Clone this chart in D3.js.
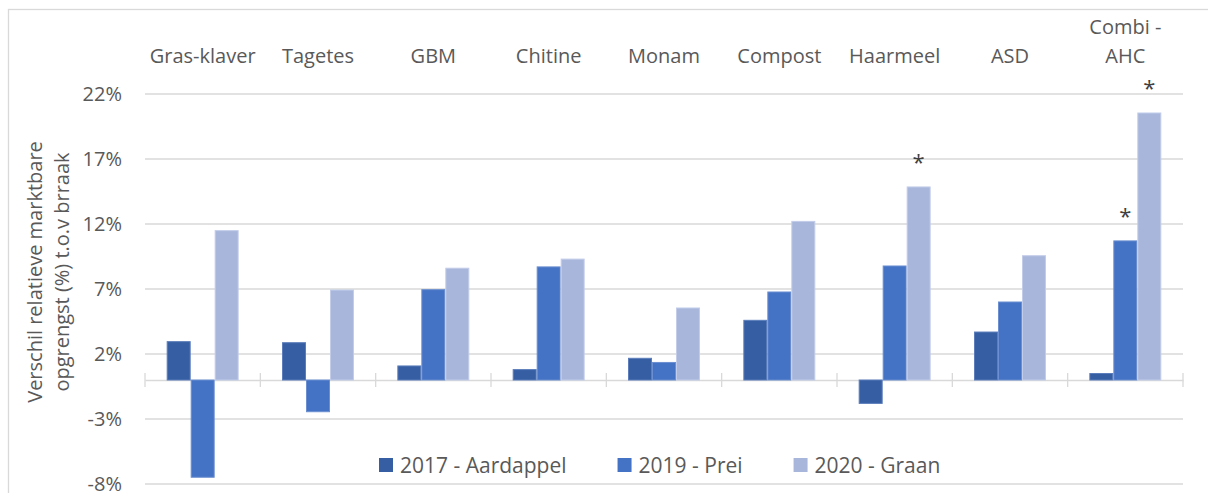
<!DOCTYPE html>
<html>
<head>
  <title>Verschil relatieve marktbare opbrengst</title>
  <style type="text/css">
    body { margin: 0; background: #fff; }
    svg { display: block; font-family: 'Open Sans', sans-serif; }
  </style>
</head>
<body>

<svg id='vis' width='1208' height='493'></svg>

<script src="https://cdnjs.cloudflare.com/ajax/libs/d3/7.8.5/d3.min.js"></script>
<script type="text/javascript">

  // data
  var categories = ['Gras-klaver', 'Tagetes', 'GBM', 'Chitine', 'Monam', 'Compost', 'Haarmeel', 'ASD', 'Combi - AHC'];
  var seriesNames = ['2017 - Aardappel', '2019 - Prei', '2020 - Graan'];
  var v2017 = [2.95, 2.87, 1.08, 0.8, 1.67, 4.59, -1.8, 3.69, 0.5];
  var v2019 = [-7.48, -2.44, 6.95, 8.7, 1.35, 6.77, 8.77, 6.0, 10.7];
  var v2020 = [11.49, 6.92, 8.6, 9.3, 5.54, 12.2, 14.85, 9.56, 20.54];
  // significance markers (*) per series
  var sig2017 = [0, 0, 0, 0, 0, 0, 0, 0, 0];
  var sig2019 = [0, 0, 0, 0, 0, 0, 0, 0, 1];
  var sig2020 = [0, 0, 0, 0, 0, 0, 1, 0, 1];
  var yTicks = [-8, -3, 2, 7, 12, 17, 22];

  var colors = ['#365fa3', '#4472c4', '#a8b6db'],
      strokes = ['#5b7dbb', '#6b8fd0', '#c3cdea'],
      gridColor = '#d9d9d9',
      textColor = '#595959';

  var allValues = [v2017, v2019, v2020],
      allSig = [sig2017, sig2019, sig2020];

  var series = seriesNames.map(function(name, i) {
    return { name: name, idx: i, values: allValues[i], sig: allSig[i] };
  });

  var svg = d3.select('#vis');

  // outer frame
  svg.append('rect')
    .attr('x', 8.5).attr('y', 9.5)
    .attr('width', 1220).attr('height', 500)
    .attr('fill', 'none')
    .attr('stroke', gridColor)
    .attr('stroke-width', 1.3);

  var plot = { left: 145, right: 1183, top: 94, bottom: 484 };

  var xScale = d3.scaleBand()
    .domain(categories)
    .range([plot.left, plot.right])
    .padding(0);
  var bw = xScale.bandwidth();
  var xInner = d3.scaleBand()
    .domain(d3.range(seriesNames.length))
    .range([bw * 0.188, bw * 0.812]);

  var yScale = d3.scaleLinear()
    .domain([-8, 22])
    .range([plot.bottom, plot.top]);

  // gridlines
  svg.append('g')
    .selectAll('line')
    .data(yTicks)
    .enter().append('line')
    .attr('x1', plot.left).attr('x2', plot.right)
    .attr('y1', function(d) { return yScale(d) })
    .attr('y2', function(d) { return yScale(d) })
    .attr('stroke', gridColor)
    .attr('stroke-width', 1.3);

  // y tick labels
  svg.append('g')
    .selectAll('text')
    .data(yTicks)
    .enter().append('text')
    .attr('x', 122)
    .attr('y', function(d) { return yScale(d) })
    .attr('dy', '0.34em')
    .attr('text-anchor', 'end')
    .attr('font-size', 20)
    .attr('fill', textColor)
    .text(function(d) { return d + '%' });

  // zero axis with crossing ticks at the category borders
  var y0 = yScale(0);
  var axis = svg.append('g')
    .attr('transform', 'translate(0,' + y0 + ')')
    .call(d3.axisBottom(xScale).tickValues([]).tickSizeOuter(0));
  axis.select('.domain').attr('stroke', gridColor).attr('stroke-width', 1.3);

  var borders = categories.map(function(c) { return xScale(c) }).concat([plot.right]);
  svg.append('g')
    .selectAll('line')
    .data(borders)
    .enter().append('line')
    .attr('x1', function(d) { return d }).attr('x2', function(d) { return d })
    .attr('y1', y0 - 7).attr('y2', y0 + 7)
    .attr('stroke', gridColor)
    .attr('stroke-width', 1.3);

  // bars
  var groups = svg.append('g')
    .selectAll('g')
    .data(series)
    .enter().append('g');

  groups.selectAll('rect')
    .data(function(s) {
      return s.values.map(function(v, j) { return { s: s.idx, cat: categories[j], val: v } });
    })
    .enter().append('rect')
    .attr('x', function(d) { return xScale(d.cat) + xInner(d.s) + 0.5 })
    .attr('width', xInner.bandwidth() - 1)
    .attr('y', function(d) { return yScale(Math.max(0, d.val)) })
    .attr('height', function(d) { return Math.abs(yScale(d.val) - yScale(0)) })
    .attr('fill', function(d) { return colors[d.s] })
    .attr('stroke', function(d) { return strokes[d.s] })
    .attr('stroke-width', 1);

  // asterisks above significant bars
  groups.selectAll('text')
    .data(function(s) {
      return s.values.map(function(v, j) { return { s: s.idx, cat: categories[j], val: v, sig: s.sig[j] } })
        .filter(function(d) { return d.sig });
    })
    .enter().append('text')
    .attr('x', function(d) { return xScale(d.cat) + xInner(d.s) + xInner.bandwidth() / 2 })
    .attr('y', function(d) { return yScale(d.val) - 17 })
    .attr('text-anchor', 'middle')
    .attr('font-size', 22)
    .attr('fill', '#404040')
    .text('*');

  // category labels on top, wrapped when wider than the band
  var catG = svg.append('g');
  categories.forEach(function(c) {
    var t = catG.append('text')
      .attr('text-anchor', 'middle')
      .attr('font-size', 20)
      .attr('fill', textColor)
      .text(c);
    var lines = [c];
    if (t.node().getComputedTextLength() > bw - 2) {
      var words = c.split(' '), cur = [], out = [];
      t.text('');
      words.forEach(function(w) {
        var test = cur.concat([w]).join(' ');
        t.text(test);
        if (t.node().getComputedTextLength() > bw - 2 && cur.length) {
          out.push(cur.join(' '));
          cur = [w];
        } else {
          cur.push(w);
        }
      });
      out.push(cur.join(' '));
      lines = out;
    }
    t.text('');
    var cx = xScale(c) + bw / 2;
    lines.forEach(function(l, i) {
      t.append('tspan')
        .attr('x', cx)
        .attr('y', 63 - (lines.length - 1 - i) * 29)
        .text(l);
    });
  });

  // y axis title
  svg.append('text')
    .attr('transform', 'translate(42,272) rotate(-90)')
    .attr('text-anchor', 'middle')
    .attr('font-size', 20)
    .attr('fill', textColor)
    .selectAll('tspan')
    .data(['Verschil relatieve marktbare', 'opgrengst (%) t.o.v brraak'])
    .enter().append('tspan')
    .attr('x', 0)
    .attr('y', function(d, i) { return i * 27 })
    .text(function(d) { return d });

  // legend
  var legend = svg.append('g');
  var items = legend.selectAll('g')
    .data(series)
    .enter().append('g');
  items.append('rect')
    .attr('width', 14).attr('height', 14)
    .attr('y', -7)
    .attr('fill', function(d) { return colors[d.idx] });
  items.append('text')
    .attr('x', 21)
    .attr('dy', '0.36em')
    .attr('font-size', 21)
    .attr('fill', textColor)
    .text(function(d) { return d.name });

  var lx = 0, widths = [];
  items.each(function() { widths.push(this.getBBox().width) });
  var start = 379;
  items.attr('transform', function(d, i) {
    var x = start + lx;
    lx += widths[i] + 51;
    return 'translate(' + x + ',465)';
  });

</script>
</body>
</html>
